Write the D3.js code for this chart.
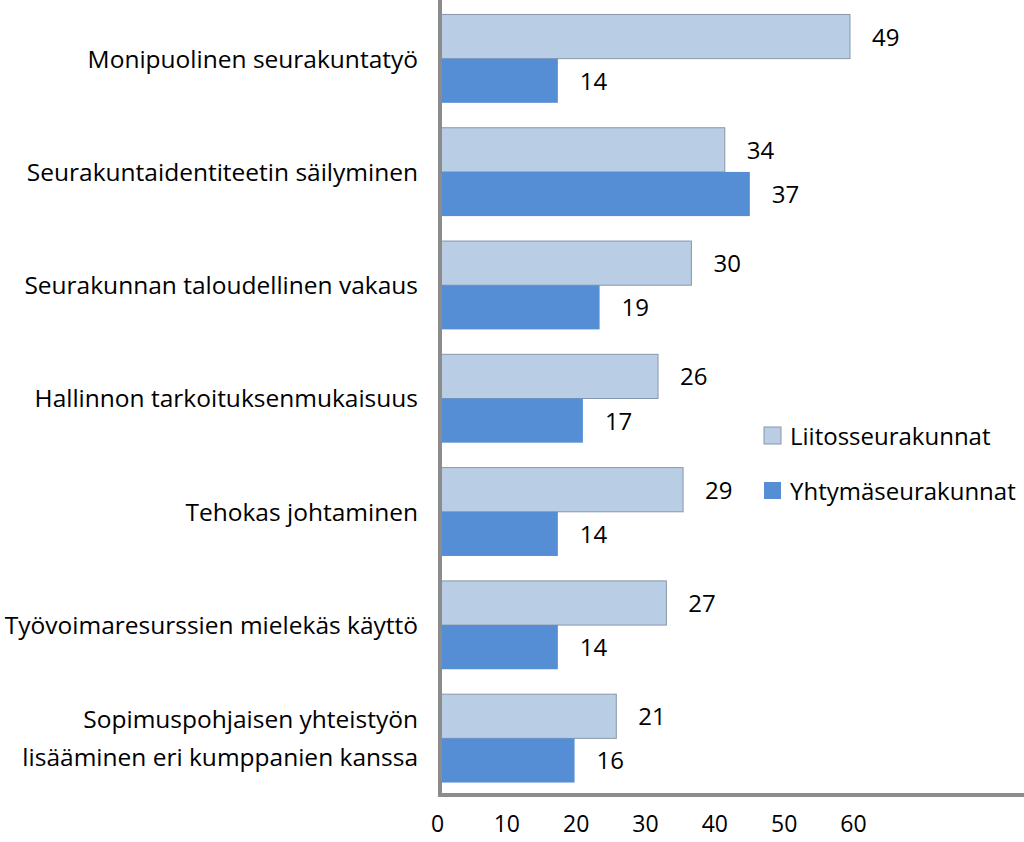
<!DOCTYPE html>
<html><head><meta charset="utf-8">
<script src="https://cdn.jsdelivr.net/npm/d3@7"></script>
<style>body{margin:0;background:#fff}</style>
</head><body><div id="chart"></div>
<script>
const categories = [
  ['Monipuolinen seurakuntatyö'],
  ['Seurakuntaidentiteetin säilyminen'],
  ['Seurakunnan taloudellinen vakaus'],
  ['Hallinnon tarkoituksenmukaisuus'],
  ['Tehokas johtaminen'],
  ['Työvoimaresurssien mielekäs käyttö'],
  ['Sopimuspohjaisen yhteistyön', 'lisääminen eri kumppanien kanssa']
];
const liitos = [49, 34, 30, 26, 29, 27, 21];
const yhtyma = [14, 37, 19, 17, 14, 14, 16];
const tickValues = [0, 10, 20, 30, 40, 50, 60];
const seriesNames = ['Liitosseurakunnat', 'Yhtymäseurakunnat'];
const colors = ['#b9cde5', '#558ed5'];

const W = 1024, H = 842;
const font = "'Open Sans', 'Liberation Sans', sans-serif";
const svg = d3.select('#chart').append('svg').attr('width', W).attr('height', H);

const x = d3.scaleLinear().domain([0, 49]).range([441, 850]);
const xTicks = d3.scaleLinear().domain([0, 60]).range([437, 853]);
const y = d3.scaleBand().domain(d3.range(categories.length)).range([2, 795]).paddingInner(0.22).paddingOuter(0.11);
const sub = d3.scaleBand().domain([0, 1]).range([0, y.bandwidth()]);

const data = categories.map((c, i) => ({ i, c, vals: [liitos[i], yhtyma[i]] }));

const g = svg.selectAll('.grp').data(data).enter().append('g')
  .attr('transform', d => `translate(0,${y(d.i)})`);

g.selectAll('rect').data(d => d.vals).enter().append('rect')
  .attr('x', x(0))
  .attr('y', (v, j) => sub(j))
  .attr('width', v => x(v) - x(0))
  .attr('height', sub.bandwidth())
  .attr('fill', (v, j) => colors[j])
  .attr('stroke', (v, j) => j === 0 ? '#8797ab' : 'none')
  .attr('stroke-width', 1);

g.selectAll('.val').data(d => d.vals).enter().append('text')
  .attr('x', v => x(v) + 22)
  .attr('y', (v, j) => sub(j) + sub.bandwidth() / 2 + 9)
  .style('font-family', font).style('font-size', '24px').style('fill', '#000')
  .text(v => v);

g.append('text')
  .attr('text-anchor', 'end')
  .style('font-family', font).style('font-size', '24.5px').style('fill', '#000')
  .selectAll('tspan').data(d => d.c.map(t => ({ t, n: d.c.length }))).enter().append('tspan')
  .attr('x', 418)
  .attr('y', (d, k) => y.bandwidth() / 2 + 9 + (k - (d.n - 1) / 2) * 38)
  .text(d => d.t);

// axis lines
svg.append('line').attr('x1', 440).attr('x2', 440).attr('y1', 0).attr('y2', 797)
  .attr('stroke', '#8c8c8c').attr('stroke-width', 4);
svg.append('line').attr('x1', 438).attr('x2', 1024).attr('y1', 795).attr('y2', 795)
  .attr('stroke', '#8c8c8c').attr('stroke-width', 4);

const ax = svg.append('g').attr('transform', 'translate(0,808)')
  .call(d3.axisBottom(xTicks).tickValues(tickValues).tickSize(0).tickPadding(8));
ax.select('.domain').remove();
ax.selectAll('text').style('font-family', font).style('font-size', '23px').style('fill', '#000');

const leg = svg.append('g');
seriesNames.forEach((s, j) => {
  const ly = 436 + j * 55;
  leg.append('rect').attr('x', 764).attr('y', ly - 9).attr('width', 17).attr('height', 17)
    .attr('fill', colors[j]).attr('stroke', j === 0 ? '#8797ab' : 'none');
  leg.append('text').attr('x', 790).attr('y', ly + 9)
    .style('font-family', font).style('font-size', '24px').text(s);
});
</script></body></html>
